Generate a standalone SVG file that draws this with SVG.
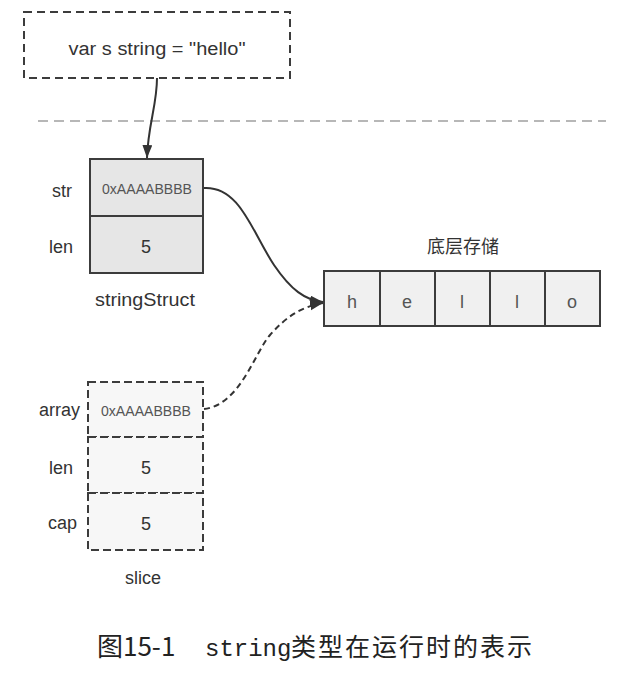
<svg xmlns="http://www.w3.org/2000/svg" width="644" height="686" viewBox="0 0 644 686">
<defs>
<marker id="arr" markerUnits="userSpaceOnUse" markerWidth="14" markerHeight="12" refX="13" refY="5" orient="auto">
<path d="M0,0 L13,5 L0,10 z" fill="#333"/>
</marker>
<style>
.t{font-family:"Liberation Sans",Arial,sans-serif;fill:#333;}
.lbl{font-size:18px;text-anchor:end;}
.val{font-size:18px;text-anchor:middle;}
.addr{font-size:15px;text-anchor:middle;fill:#555;}
.cell{font-size:18px;text-anchor:middle;fill:#555;}
.solid{fill:#e6e6e6;stroke:#3c3c3c;stroke-width:2;}
.dash{fill:#f7f7f7;stroke:#3c3c3c;stroke-width:2;stroke-dasharray:8 4;}
.hc{fill:#f0f0f0;stroke:#3c3c3c;stroke-width:2;}
.cn{fill:none;stroke:#333;stroke-width:2;}
.cap{font-family:"Noto Sans CJK SC",sans-serif;fill:#222;}
</style>
</defs>
<rect width="644" height="686" fill="#fff"/>

<g id="decl">
<rect x="24" y="12" width="266" height="66" fill="#fff" stroke="#3c3c3c" stroke-width="2" stroke-dasharray="8 5"/>
<text class="t" x="157" y="55" font-size="18" text-anchor="middle" textLength="177" lengthAdjust="spacingAndGlyphs">var s string = "hello"</text>
</g>

<line x1="38" y1="121" x2="606" y2="121" stroke="#a0a0a0" stroke-width="1.5" stroke-dasharray="10 6"/>

<g id="stringStruct">
<rect class="solid" x="90" y="159" width="113" height="57"/>
<rect class="solid" x="90" y="216" width="113" height="57"/>
<text class="t lbl" x="72" y="197">str</text>
<text class="t lbl" x="73" y="253">len</text>
<text class="t addr" x="147" y="194" textLength="90" lengthAdjust="spacingAndGlyphs">0xAAAABBBB</text>
<text class="t val" x="146" y="253">5</text>
<text class="t val" x="145" y="306" textLength="100" lengthAdjust="spacingAndGlyphs">stringStruct</text>
</g>

<g id="storage">
<text class="t" x="463" y="253" font-size="18" text-anchor="middle" style="font-family:'Noto Sans CJK SC','Liberation Sans',sans-serif">底层存储</text>
<rect class="hc" x="324" y="271" width="56" height="55"/>
<rect class="hc" x="380" y="271" width="55" height="55"/>
<rect class="hc" x="435" y="271" width="55" height="55"/>
<rect class="hc" x="490" y="271" width="55" height="55"/>
<rect class="hc" x="545" y="271" width="55" height="55"/>
<text class="t cell" x="352" y="308">h</text>
<text class="t cell" x="407" y="308">e</text>
<text class="t cell" x="462" y="308">l</text>
<text class="t cell" x="517" y="308">l</text>
<text class="t cell" x="572" y="308">o</text>
</g>

<g id="slice">
<rect class="dash" x="88" y="382" width="115" height="55"/>
<rect class="dash" x="88" y="437" width="115" height="56"/>
<rect class="dash" x="88" y="493" width="115" height="57"/>
<text class="t lbl" x="80" y="416">array</text>
<text class="t lbl" x="73" y="474">len</text>
<text class="t lbl" x="77" y="529">cap</text>
<text class="t addr" x="146" y="416" textLength="90" lengthAdjust="spacingAndGlyphs">0xAAAABBBB</text>
<text class="t val" x="146" y="474">5</text>
<text class="t val" x="146" y="530">5</text>
<text class="t val" x="143" y="584">slice</text>
</g>

<g id="connectors">
<path class="cn" d="M157,78 C157,105 148,125 147,158" marker-end="url(#arr)"/>
<path class="cn" d="M204,188 C240,186 252,232 274,265 C291,290 305,300 323,302" marker-end="url(#arr)"/>
<path class="cn" d="M204,409 C240,405 255,352 270,335 C285,318 300,307 323,303" stroke-dasharray="6 4" marker-end="url(#arr)"/>
</g>

<g id="caption">
<text class="cap" x="97" y="656" font-size="26">图15-1</text>
<text x="205" y="656" font-size="24" fill="#222" style="font-family:'Liberation Mono','Noto Sans CJK SC',monospace">string</text>
<text class="cap" x="291" y="656" font-size="25" letter-spacing="2">类型在运行时的表示</text>
</g>
</svg>
